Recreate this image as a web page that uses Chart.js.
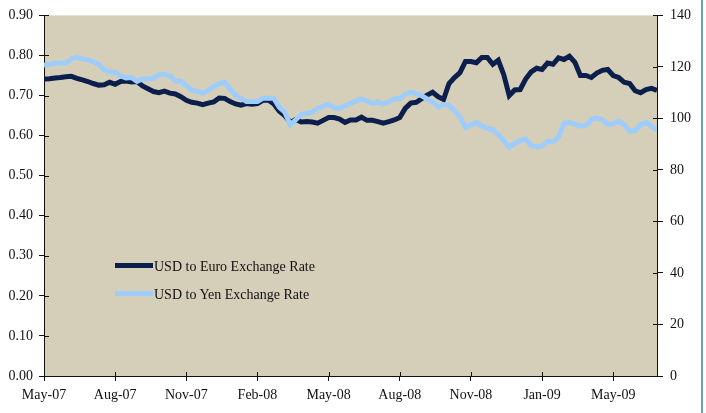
<!DOCTYPE html>
<html>
<head>
<meta charset="utf-8">
<script src="https://cdn.jsdelivr.net/npm/chart.js@4/dist/chart.umd.min.js"></script>
<style>
  html, body { margin: 0; padding: 0; background: #fff; }
  #wrap { position: relative; width: 706px; height: 413px; }
  #frame { position: absolute; left: 701px; top: 0; width: 2px; height: 413px; background: #6aa89c; }
  .legend-item { position: absolute; left: 115px; font: 14px "Liberation Serif", serif; color: #111; white-space: nowrap; }
  .legend-item span.swatch { display: inline-block; width: 38px; height: 5px; vertical-align: middle; margin-right: 1px; position: relative; top: -2px; }
</style>
</head>
<body>
<div id="wrap">
  <canvas id="rateChart" width="706" height="413"></canvas>
  <div id="frame"></div>
  <div class="legend-item" style="top:259px"><span class="swatch" style="background:#0c1e4c"></span>USD to Euro Exchange Rate</div>
  <div class="legend-item" style="top:287px"><span class="swatch" style="background:#9fcdfb"></span>USD to Yen Exchange Rate</div>
</div>
<script>
// weekly samples, May-07 .. Jun-09 (one label every 13 weeks)
const tickLabels = ['May-07', 'Aug-07', 'Nov-07', 'Feb-08', 'May-08', 'Aug-08', 'Nov-08', 'Jan-09', 'May-09'];
const weeksPerTick = 13;

const euroRates = [
  0.741, 0.742, 0.744, 0.745, 0.747, 0.748, 0.743, 0.739, 0.735, 0.730,
  0.726, 0.727, 0.733, 0.728, 0.735, 0.736, 0.734, 0.735, 0.724, 0.717,
  0.710, 0.707, 0.711, 0.706, 0.704, 0.697, 0.688, 0.683, 0.681, 0.677,
  0.681, 0.684, 0.694, 0.693, 0.685, 0.679, 0.676, 0.680, 0.678, 0.680,
  0.688, 0.689, 0.679, 0.661, 0.650, 0.633, 0.640, 0.634, 0.635, 0.634,
  0.631, 0.638, 0.645, 0.645, 0.641, 0.633, 0.639, 0.639, 0.646, 0.638,
  0.638, 0.635, 0.631, 0.635, 0.639, 0.645, 0.668, 0.681, 0.683, 0.692,
  0.701, 0.708, 0.697, 0.690, 0.730, 0.745, 0.757, 0.785, 0.785, 0.782,
  0.795, 0.795, 0.778, 0.788, 0.752, 0.700, 0.714, 0.715, 0.741, 0.759,
  0.768, 0.765, 0.781, 0.778, 0.794, 0.790, 0.798, 0.783, 0.750, 0.750,
  0.745, 0.756, 0.763, 0.765, 0.750, 0.745, 0.733, 0.730, 0.712, 0.707,
  0.715, 0.718, 0.713
];

const yenRates = [
  120.6, 121.0, 121.4, 121.4, 121.4, 123.2, 123.7, 123.1, 122.7, 122.0,
  121.0, 118.8, 118.0, 117.9, 116.5, 115.7, 115.9, 114.4, 115.3, 115.4,
  115.5, 116.9, 117.2, 116.5, 114.5, 114.5, 112.8, 111.0, 110.5, 109.8,
  110.9, 112.4, 113.5, 114.0, 111.5, 109.0, 107.8, 106.6, 106.6, 106.6,
  107.8, 107.8, 107.8, 104.3, 102.5, 97.5, 99.5, 101.6, 101.9, 102.4,
  103.9, 104.7, 105.6, 104.3, 103.9, 104.8, 105.8, 106.8, 107.5, 106.8,
  105.8, 106.4, 105.6, 106.5, 107.6, 107.6, 109.4, 110.1, 109.6, 108.8,
  107.6, 106.4, 104.5, 105.4, 105.1, 103.0, 100.5, 96.5, 97.5, 98.5,
  97.0, 96.2, 95.5, 93.8, 91.3, 88.8, 90.2, 91.5, 92.0, 89.5,
  88.9, 89.3, 91.2, 91.0, 92.7, 98.1, 98.4, 97.8, 97.0, 97.3,
  99.6, 100.1, 99.5, 97.7, 97.8, 99.0, 97.7, 95.1, 95.3, 97.5,
  98.5, 96.9, 95.5
];

const FONT = { family: '"Liberation Serif", serif', size: 14 };
const INK = '#111';

const plotBackground = {
  id: 'plotBackground',
  beforeDraw(chart) {
    const { ctx, chartArea: a } = chart;
    ctx.save();
    ctx.fillStyle = '#d5ceb9';
    ctx.fillRect(a.left, a.top, a.right - a.left, a.bottom - a.top);
    ctx.restore();
  }
};

// excel style ticks cross the axis line: draw the inner half
const innerTicks = {
  id: 'innerTicks',
  afterDraw(chart) {
    const { ctx, chartArea: a, scales } = chart;
    ctx.save();
    ctx.strokeStyle = INK;
    ctx.lineWidth = 1;
    ctx.beginPath();
    scales.y.ticks.forEach((t, i) => {
      const y = Math.round(scales.y.getPixelForTick(i)) + 0.5;
      ctx.moveTo(a.left, y); ctx.lineTo(a.left + 5, y);
    });
    scales.y2.ticks.forEach((t, i) => {
      const y = Math.round(scales.y2.getPixelForTick(i)) + 0.5;
      ctx.moveTo(a.right - 4, y); ctx.lineTo(a.right, y);
    });
    scales.x.ticks.forEach((t, i) => {
      const x = Math.round(scales.x.getPixelForTick(i)) + 0.5;
      ctx.moveTo(x, a.bottom); ctx.lineTo(x, a.bottom - 4);
    });
    ctx.stroke();
    ctx.restore();
  }
};

const toPoints = arr => arr.map((v, i) => ({ x: i, y: v }));

new Chart(document.getElementById('rateChart').getContext('2d'), {
  type: 'line',
  data: {
    datasets: [
      {
        label: 'USD to Euro Exchange Rate',
        data: toPoints(euroRates),
        yAxisID: 'y',
        borderColor: '#0c1e4c',
        borderWidth: 5,
        pointRadius: 0,
        tension: 0,
        order: 1
      },
      {
        label: 'USD to Yen Exchange Rate',
        data: toPoints(yenRates),
        yAxisID: 'y2',
        borderColor: '#9fcdfb',
        borderWidth: 5,
        pointRadius: 0,
        tension: 0,
        order: 0
      }
    ]
  },
  options: {
    responsive: false,
    animation: false,
    layout: { padding: { top: 15, left: 0, right: 0, bottom: 0 } },
    plugins: { legend: { display: false }, tooltip: { enabled: false } },
    scales: {
      x: {
        type: 'linear',
        min: 0,
        max: euroRates.length - 1,
        afterBuildTicks: scale => {
          scale.ticks = scale.ticks.filter(t => t.value % weeksPerTick === 0);
        },
        afterFit: scale => { scale.height = 37; },
        ticks: {
          stepSize: weeksPerTick,
          maxRotation: 0,
          autoSkip: false,
          padding: 6,
          color: INK,
          font: FONT,
          callback: v => tickLabels[v / weeksPerTick] ?? ''
        },
        grid: { drawOnChartArea: false, tickLength: 5, color: INK },
        border: { color: INK, width: 1 }
      },
      y: {
        position: 'left',
        min: 0,
        max: 0.9,
        afterFit: scale => { scale.width = 44; },
        ticks: { stepSize: 0.1, padding: 6, color: INK, font: FONT, callback: v => v.toFixed(2) },
        grid: { drawOnChartArea: false, tickLength: 5, color: INK },
        border: { color: INK, width: 1 }
      },
      y2: {
        position: 'right',
        min: 0,
        max: 140,
        afterFit: scale => { scale.width = 49; },
        ticks: { stepSize: 20, padding: 7, color: INK, font: FONT },
        grid: { drawOnChartArea: false, tickLength: 6, color: INK },
        border: { color: INK, width: 1 }
      }
    }
  },
  plugins: [plotBackground, innerTicks]
});
</script>
</body>
</html>
